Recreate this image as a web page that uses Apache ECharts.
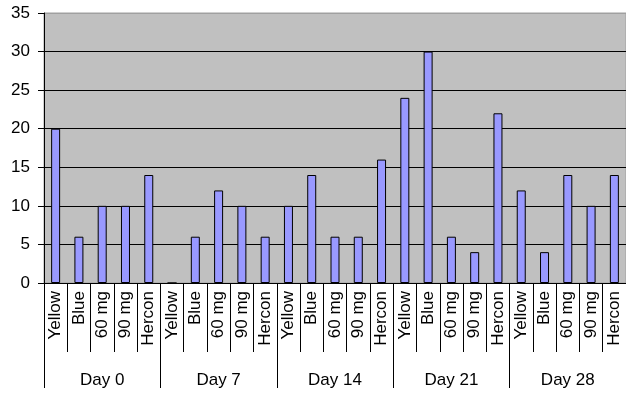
<!DOCTYPE html>
<html>
<head>
<meta charset="utf-8">
<script src="https://cdn.jsdelivr.net/npm/echarts@6/dist/echarts.min.js"></script>
<style>
  html, body { margin: 0; padding: 0; background: #fff; }
  #chart { width: 626px; height: 393px; }
</style>
</head>
<body>
<div id="chart"></div>
<script>
// Treatments shown within each day, and the days that group them
const treatments = ['Yellow', 'Blue', '60 mg', '90 mg', 'Hercon'];
const days = ['Day 0', 'Day 7', 'Day 14', 'Day 21', 'Day 28'];

// Counts per treatment, one array per day
const day0 = [20, 6, 10, 10, 14];
const day7 = [0, 6, 12, 10, 6];
const day14 = [10, 14, 6, 6, 16];
const day21 = [24, 30, 6, 4, 22];
const day28 = [12, 4, 14, 10, 14];

const yTicks = [0, 5, 10, 15, 20, 25, 30, 35];

const byDay = [day0, day7, day14, day21, day28];
const categories = [];
const values = [];
byDay.forEach(function (arr) {
  arr.forEach(function (v, i) {
    categories.push(treatments[i]);
    values.push(v);
  });
});

const FONT = 'Liberation Sans, Arial, sans-serif';
const chart = echarts.init(document.getElementById('chart'));

// grid lines are black except the topmost one, which blends into the gray frame
const splitColors = yTicks.map(function (t, i) { return i === yTicks.length - 1 ? '#a0a0a0' : '#000'; });

chart.setOption({
  animation: false,
  grid: {
    left: 44, right: -3, top: 13, bottom: 110,
    show: true,
    backgroundColor: '#c0c0c0',
    borderColor: '#a0a0a0',
    borderWidth: 1
  },
  xAxis: [
    {
      type: 'category',
      data: categories,
      position: 'bottom',
      axisLine: { show: true, lineStyle: { color: '#000', width: 1 } },
      axisTick: { show: true, interval: 0, length: 69, lineStyle: { color: '#000' } },
      axisLabel: {
        interval: 0, rotate: 90, margin: 8,
        color: '#000', fontFamily: FONT, fontSize: 17
      }
    },
    {
      type: 'category',
      data: days,
      position: 'bottom',
      axisLine: { show: false },
      axisTick: { show: true, interval: 0, length: 105, lineStyle: { color: '#000' } },
      axisLabel: {
        interval: 0, margin: 89,
        color: '#000', fontFamily: FONT, fontSize: 17
      }
    }
  ],
  yAxis: {
    type: 'value',
    min: yTicks[0],
    max: yTicks[yTicks.length - 1],
    interval: yTicks[1] - yTicks[0],
    axisLine: { show: true, lineStyle: { color: '#000' } },
    axisTick: { show: true, length: 6, lineStyle: { color: '#000' } },
    axisLabel: { margin: 14, color: '#000', fontFamily: FONT, fontSize: 17 },
    splitLine: { show: true, lineStyle: { color: splitColors, width: 1 } }
  },
  series: [
    {
      type: 'bar',
      data: values,
      xAxisIndex: 0,
      barWidth: 9,
      itemStyle: { color: '#9999ff', borderColor: '#000', borderWidth: 1 }
    }
  ]
});
</script>
</body>
</html>
